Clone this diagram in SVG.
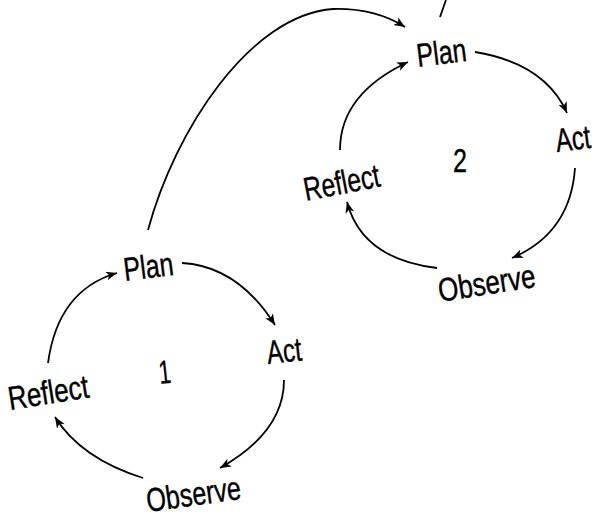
<svg xmlns="http://www.w3.org/2000/svg" width="599" height="519" viewBox="0 0 599 519">
<style>
  .lbl { font-family: "Liberation Sans", Arial, sans-serif; font-size: 33px; fill: #000; stroke: #000; stroke-width: 0.4; }
  .arc { fill: none; stroke: #000; stroke-width: 1.8; marker-end: url(#ah); }
  .plain { fill: none; stroke: #000; stroke-width: 1.8; }
</style>
<defs>
  <marker id="ah" markerUnits="userSpaceOnUse" markerWidth="13" markerHeight="10" refX="11" refY="4.5" orient="auto">
    <path d="M0,0 L11,4.5 L0,9 L3,4.5 Z" fill="#000"/>
  </marker>
</defs>
<rect width="599" height="519" fill="#fff"/>
<g id="connectors">
  <path class="arc" d="M48,363 Q58,290 117,273"/>
  <path class="arc" d="M182,263 Q237.5,266 275,325"/>
  <path class="arc" d="M284,380 Q284,432 220,468"/>
  <path class="arc" d="M143,478 Q81,458.5 55,417"/>
  <path class="arc" d="M340,150 Q340,94 408,62"/>
  <path class="arc" d="M475,52 Q545,63.5 567,113"/>
  <path class="arc" d="M575,168 Q570.5,233 512,258"/>
  <path class="arc" d="M437,268 Q362,259 347,202"/>
  <path class="arc" d="M148,230 C175,130 250,15 333,9 Q375,8 405,27"/>
  <path class="plain" d="M440,17 L446,0"/>
</g>
<g id="cycle1-plan"><text class="lbl" transform="translate(125,281) rotate(-7) scale(0.757,1)">Plan</text></g>
<g id="cycle1-act"><text class="lbl" transform="translate(268,364) rotate(-6) scale(0.734,1)">Act</text></g>
<g id="cycle1-observe"><text class="lbl" transform="translate(148,512) rotate(-8) scale(0.762,1)">Observe</text></g>
<g id="cycle1-reflect"><text class="lbl" transform="translate(10,410) rotate(-9) scale(0.789,1)">Reflect</text></g>
<g id="cycle1-number"><text class="lbl" transform="translate(160,384) rotate(-6) scale(0.65,1)">1</text></g>
<g id="cycle2-plan"><text class="lbl" transform="translate(418,67) rotate(-7) scale(0.757,1)">Plan</text></g>
<g id="cycle2-act"><text class="lbl" transform="translate(557,152) rotate(-7) scale(0.734,1)">Act</text></g>
<g id="cycle2-observe"><text class="lbl" transform="translate(440,302) rotate(-9) scale(0.786,1)">Observe</text></g>
<g id="cycle2-reflect"><text class="lbl" transform="translate(306,201) rotate(-11) scale(0.75,1)">Reflect</text></g>
<g id="cycle2-number"><text class="lbl" transform="translate(453,172) scale(0.76,1)">2</text></g>
</svg>
